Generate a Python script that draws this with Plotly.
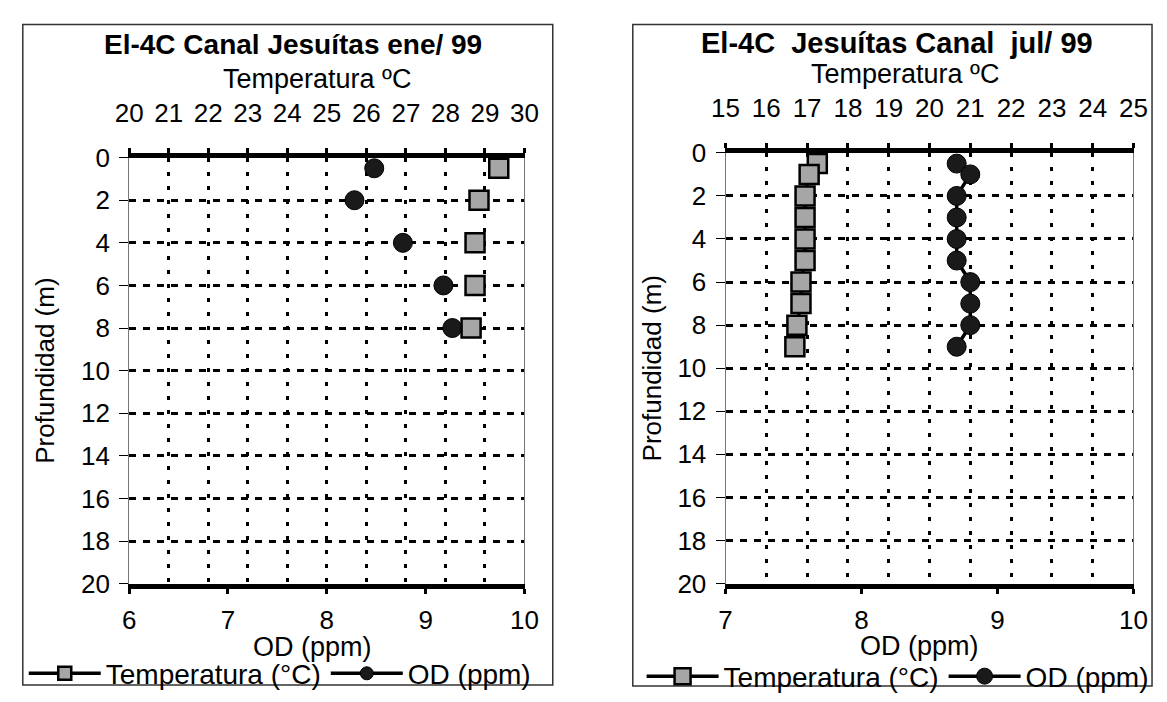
import plotly.graph_objects as go

W, H = 1167, 702
FONT = "Liberation Sans, Arial, sans-serif"

# ---- data: January (ene/99) ----
ene_depth = [0.5, 2, 4, 6, 8]
ene_temp = [29.35, 28.85, 28.75, 28.75, 28.65]
ene_od = [8.48, 8.28, 8.77, 9.18, 9.27]

# ---- data: July (jul/99) ----
jul_depth = [0.5, 1, 2, 3, 4, 5, 6, 7, 8, 9]
jul_temp = [17.25, 17.05, 16.95, 16.95, 16.95, 16.95, 16.85, 16.85, 16.75, 16.7]
jul_od = [8.7, 8.8, 8.7, 8.7, 8.7, 8.7, 8.8, 8.8, 8.8, 8.7]

ene_temp_ticks = list(range(20, 31))
jul_temp_ticks = list(range(15, 26))
ene_od_ticks = [6, 7, 8, 9, 10]
jul_od_ticks = [7, 8, 9, 10]
depth_ticks = list(range(0, 21, 2))

titles = ["El-4C Canal Jesuítas ene/ 99", "El-4C  Jesuítas Canal  jul/ 99"]


def px(x):
    return x / W


def py(y):
    return 1 - y / H


SQ = dict(symbol="square", size=19, color="#a6a6a6", line=dict(color="black", width=2.5))
CI = dict(symbol="circle", size=19, color="#1a1a1a", line=dict(color="black", width=1))

fig = go.Figure()

# Left panel: markers only
fig.add_trace(go.Scatter(x=ene_od, y=ene_depth, mode="markers", marker=CI,
                         xaxis="x", yaxis="y", showlegend=False))
fig.add_trace(go.Scatter(x=ene_temp, y=ene_depth, mode="markers", marker=SQ,
                         xaxis="x2", yaxis="y", showlegend=False))
# legend entries for left panel
fig.add_trace(go.Scatter(x=[None], y=[None], mode="lines+markers", name="Temperatura (°C)",
                         marker=dict(SQ, size=13), line=dict(color="black", width=3.5),
                         xaxis="x2", yaxis="y", legend="legend"))
fig.add_trace(go.Scatter(x=[None], y=[None], mode="lines+markers", name="OD (ppm)",
                         marker=dict(CI, size=13), line=dict(color="black", width=3.5),
                         xaxis="x", yaxis="y", legend="legend"))

# Right panel: lines + markers
fig.add_trace(go.Scatter(x=jul_od, y=jul_depth, mode="lines+markers", marker=CI,
                         line=dict(color="black", width=3.5), name="OD (ppm)",
                         xaxis="x3", yaxis="y2", legend="legend2", legendrank=2))
fig.add_trace(go.Scatter(x=jul_temp, y=jul_depth, mode="lines+markers", marker=SQ,
                         line=dict(color="black", width=3.5), name="Temperatura (°C)",
                         xaxis="x4", yaxis="y2", legend="legend2", legendrank=1))

tickfont = dict(family=FONT, size=26, color="black")

common_bottom = dict(showgrid=False, zeroline=False, showline=True, linecolor="black",
                     linewidth=5, ticks="outside", ticklen=5, tickwidth=3, tickcolor="black",
                     tickfont=tickfont, ticklabelstandoff=4)
common_top = dict(showgrid=True, gridcolor="black", gridwidth=3, griddash="4px,10px",
                  zeroline=False, showline=True, linecolor="black", linewidth=5,
                  ticks="outside", ticklen=5, tickwidth=3, tickcolor="black",
                  tickfont=tickfont, side="top", ticklabelstandoff=15)
common_y = dict(range=[20, 0], tickvals=depth_ticks, showgrid=True, gridcolor="black",
                gridwidth=3, griddash="7px,7px", zeroline=False, showline=True,
                linecolor="#777", linewidth=1, mirror=True, ticks="outside", ticklen=9,
                tickwidth=1, tickcolor="black", tickfont=tickfont, ticklabelstandoff=4)

L = [px(118), px(523)]
R = [px(729), px(1147)]

ytitle_font = dict(family=FONT, size=26, color="black")

fig.update_layout(
    width=W, height=H, margin=dict(l=0, r=0, t=0, b=0),
    paper_bgcolor="white", plot_bgcolor="white",
    font=dict(family=FONT, color="black"),
    xaxis=dict(common_bottom, domain=L, anchor="y", range=[6, 10], tickvals=ene_od_ticks),
    xaxis2=dict(common_top, overlaying="x", anchor="y", range=[20, 30], tickvals=ene_temp_ticks),
    yaxis=dict(common_y, domain=[py(594), py(149)], anchor="x",
               title=dict(text="Profundidad (m)", font=ytitle_font, standoff=18)),
    xaxis3=dict(common_bottom, domain=R, anchor="y2", range=[7, 10], tickvals=jul_od_ticks),
    xaxis4=dict(common_top, overlaying="x3", anchor="y2", range=[15, 25], tickvals=jul_temp_ticks),
    yaxis2=dict(common_y, domain=[py(594), py(144)], anchor="x3",
                title=dict(text="Profundidad (m)", font=ytitle_font, standoff=8)),
    legend=dict(orientation="h", x=px(10), y=py(688), xanchor="left", yanchor="middle",
                font=dict(family=FONT, size=28, color="black"), itemwidth=72,
                bgcolor="rgba(0,0,0,0)", tracegroupgap=0),
    legend2=dict(orientation="h", x=px(643), y=py(691), xanchor="left", yanchor="middle",
                 font=dict(family=FONT, size=28, color="black"), itemwidth=72,
                 bgcolor="rgba(0,0,0,0)", tracegroupgap=0),
    showlegend=True,
)

annotations = [
    dict(text="<b>" + titles[0] + "</b>", x=px(286), y=py(31), font=dict(size=28)),
    dict(text="Temperatura ºC", x=px(310), y=py(67), font=dict(size=27)),
    dict(text="OD (ppm)", x=px(306), y=py(660), font=dict(size=27)),
    dict(text="<b>" + titles[1] + "</b>", x=px(905), y=py(29), font=dict(size=29)),
    dict(text="Temperatura ºC", x=px(913), y=py(62), font=dict(size=27)),
    dict(text="OD (ppm)", x=px(928), y=py(659), font=dict(size=27)),
]
for a in annotations:
    a.update(xref="paper", yref="paper", showarrow=False, xanchor="center", yanchor="middle")
    a["font"].update(family=FONT, color="black")
fig.update_layout(annotations=annotations)

fig.update_layout(shapes=[
    dict(type="rect", xref="paper", yref="paper", x0=px(9), x1=px(552), y0=py(700), y1=py(10),
         line=dict(color="#333", width=1.5)),
    dict(type="rect", xref="paper", yref="paper", x0=px(634), x1=px(1166), y0=py(701), y1=py(10),
         line=dict(color="#333", width=1.5)),
])

fig.write_html("out.html", config={"displayModeBar": False},
               post_script="document.body.style.margin='0px';")
